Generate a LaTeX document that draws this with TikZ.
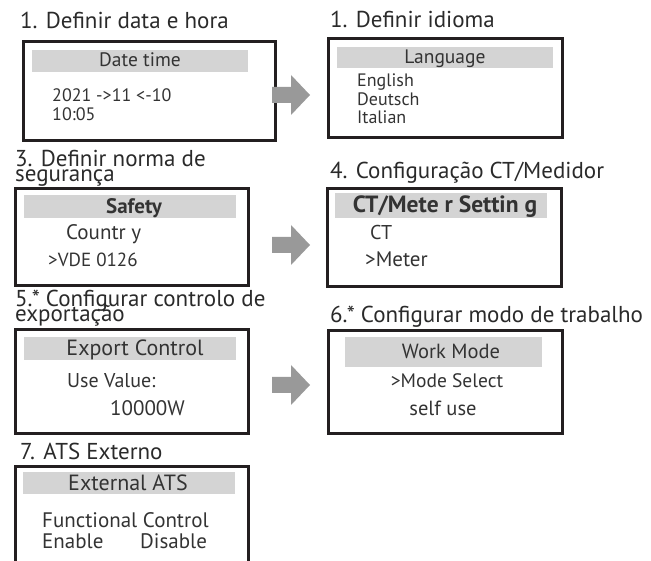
\documentclass[tikz,border=0pt]{standalone}
\usepackage{fontspec}
\setmainfont{PT Sans}
\definecolor{txt}{HTML}{333333}
\definecolor{ttlc}{HTML}{2A2A2A}
\definecolor{hdr}{HTML}{D4D4D4}
\definecolor{arr}{HTML}{999999}
\definecolor{frame}{HTML}{231F20}
\newcommand{\fsz}[1]{\fontsize{#1}{#1}\selectfont}
\begin{document}
\begin{tikzpicture}[x=1pt,y=-1pt,
  screen/.style={draw=frame,line width=3pt},
  hdrbar/.style={fill=hdr},
  ttl/.style={anchor=base west,inner sep=0pt,text=ttlc,font=\fsz{23}},
  hd/.style={anchor=base,inner sep=0pt,text=txt,font=\fsz{20}},
  ln/.style={anchor=base west,inner sep=0pt,text=txt,font=\fsz{20}},
  cln/.style={anchor=base,inner sep=0pt,text=txt,font=\fsz{20}},
  nextarrow/.style={fill=arr,draw=none}]
\useasboundingbox (0,0) rectangle (651,561);
% Box 1
\node[ttl] (t1) at (20,29) {1. Definir data e hora};
\draw[screen] (23,42) rectangle (275,141);
\fill[hdrbar] (32,50) rectangle (248,72);
\node[hd,font=\fsz{19.5}] (h1) at (140,67) {Date time};
\node[ln,font=\fsz{18}] (l1a) at (52,102) {2021 ->11 <-10};
\node[ln,font=\fsz{18}] (l1b) at (52,121) {10:05};
% Arrow 1
\fill[nextarrow] (272,87) -- (291,87) -- (291,75) -- (310,95) -- (291,115) -- (291,103) -- (272,103) -- cycle;
% Box 2
\node[ttl] (t2) at (330,28) {1. Definir idioma};
\draw[screen] (328,39) rectangle (562,138);
\fill[hdrbar] (337,47) rectangle (553,68);
\node[hd,font=\fsz{19.5}] (h2) at (445,64) {Language};
\node[ln,font=\fsz{18}] (l2a) at (357,87) {English};
\node[ln,font=\fsz{18}] (l2b) at (357,106) {Deutsch};
\node[ln,font=\fsz{18}] (l2c) at (357,124) {Italian};
% Box 3
\node[ttl] (t3a) at (15,167) {3. Definir norma de};
\node[ttl] (t3b) at (15,182) {segurança};
\draw[screen] (15,189) rectangle (248,286);
\fill[hdrbar] (24,195) rectangle (236,218);
\node[hd,font=\fsz{21}\bfseries] (h3) at (134,214) {Safety};
\node[ln,font=\fsz{21}] (l3a) at (66,240) {Countr y};
\node[ln,font=\fsz{19}] (l3b) at (48,267) {>VDE 0126};
% Arrow 2
\fill[nextarrow] (272,237) -- (291,237) -- (291,225) -- (310,245) -- (291,265) -- (291,253) -- (272,253) -- cycle;
% Box 4
\node[ttl] (t4) at (330,179) {4. Configuração CT/Medidor};
\draw[screen] (327,189) rectangle (561,287);
\fill[hdrbar] (335,193) rectangle (547,218);
\node[hd,font=\fsz{23.5}\bfseries] (h4) at (445,213) {CT/Mete r Settin g};
\node[ln,font=\fsz{20}] (l4a) at (370,240) {CT};
\node[ln,font=\fsz{21}] (l4b) at (365,267) {>Meter};
% Box 5
\node[ttl] (t5a) at (15,307) {5.* Configurar controlo de};
\node[ttl] (t5b) at (15,322) {exportação};
\draw[screen] (15,330) rectangle (248,433);
\fill[hdrbar] (24,337) rectangle (236,360);
\node[hd,font=\fsz{22}] (h5) at (135,356) {Export Control};
\node[ln,font=\fsz{20}] (l5a) at (67,388) {Use Value:};
\node[ln,font=\fsz{21}] (l5b) at (110,416) {10000W};
% Arrow 3
\fill[nextarrow] (272,377) -- (291,377) -- (291,365) -- (310,385) -- (291,405) -- (291,393) -- (272,393) -- cycle;
% Box 6
\node[ttl] (t6) at (330,323) {6.* Configurar modo de trabalho};
\draw[screen] (328,331) rectangle (562,433);
\fill[hdrbar] (345,337) rectangle (542,367);
\node[hd,font=\fsz{20.5}] (h6) at (451,359) {Work Mode};
\node[cln,font=\fsz{19.5}] (l6a) at (447,388) {>Mode Select};
\node[cln,font=\fsz{20.5}] (l6b) at (443,416) {self use};
% Box 7
\node[ttl] (t7) at (20,459) {7. ATS Externo};
\draw[screen] (15,563) -- (15,466) -- (248,466) -- (248,563);
\fill[hdrbar] (23,472) rectangle (235,494);
\node[hd,font=\fsz{22}] (h7) at (128,490) {External ATS};
\node[ln,font=\fsz{21}] (l7a) at (42,527) {Functional Control};
\node[ln,font=\fsz{21}] (l7b) at (42,548) {Enable};
\node[ln,font=\fsz{21}] (l7c) at (140,548) {Disable};
\end{tikzpicture}
\end{document}
